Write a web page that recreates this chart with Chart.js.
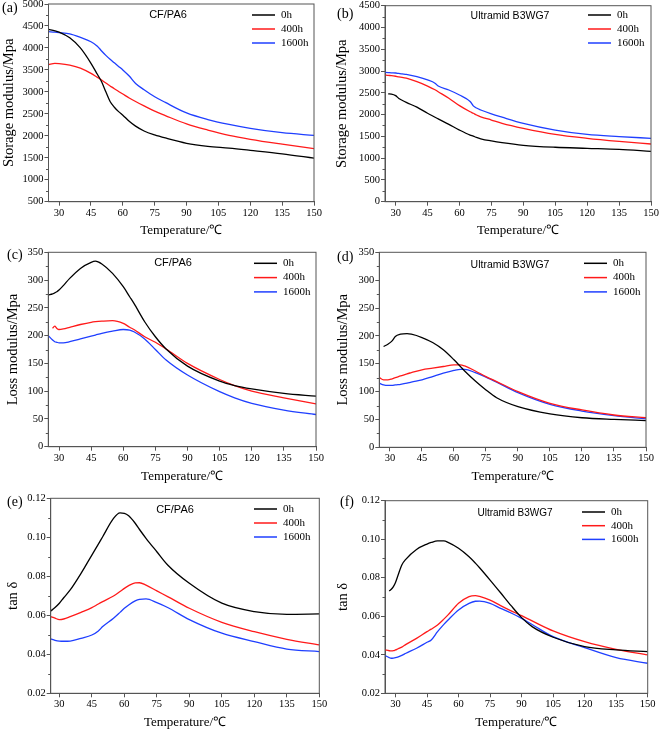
<!DOCTYPE html>
<html>
<head>
<meta charset="utf-8">
<script src="https://cdn.jsdelivr.net/npm/chart.js@4.4.1/dist/chart.umd.min.js"></script>
<style>
  body { margin: 0; background: #fff; }
  .wrap { position: relative; width: 661px; height: 731px; overflow: hidden; }
  canvas { position: absolute; }
</style>
</head>
<body>
<div class="wrap">
  <canvas id="pa" width="330" height="240" style="left:0;top:0"></canvas>
  <canvas id="pb" width="331" height="240" style="left:330px;top:0"></canvas>
  <canvas id="pc" width="330" height="245" style="left:0;top:240px"></canvas>
  <canvas id="pd" width="331" height="245" style="left:330px;top:240px"></canvas>
  <canvas id="pe" width="330" height="246" style="left:0;top:485px"></canvas>
  <canvas id="pf" width="331" height="246" style="left:330px;top:485px"></canvas>
</div>
<script>
const serif = '"Liberation Serif", "Times New Roman", serif';
const sans = '"Liberation Sans", Arial, sans-serif';

const seriesLabels = ['0h', '400h', '1600h'];
const seriesColors = ['#000000', '#ff1a1a', '#1f3fff'];
const xTicks = [30, 45, 60, 75, 90, 105, 120, 135, 150];

// (a) storage modulus, CF/PA6
const tempA = [25, 28, 30, 35, 40, 45, 48, 50, 52, 54, 56, 58, 60, 63, 66, 70, 75, 80, 90, 100, 110, 120, 135, 150];
const a0h   = [4420, 4390, 4360, 4230, 4000, 3650, 3400, 3230, 3000, 2780, 2650, 2550, 2470, 2330, 2220, 2110, 2020, 1950, 1830, 1760, 1720, 1670, 1590, 1490];
const a400  = [3620, 3650, 3645, 3610, 3540, 3420, 3330, 3270, 3200, 3135, 3070, 3010, 2950, 2860, 2780, 2680, 2560, 2460, 2270, 2130, 2010, 1920, 1810, 1710];
const a1600 = [4370, 4360, 4350, 4320, 4240, 4140, 4040, 3930, 3830, 3740, 3660, 3580, 3500, 3360, 3190, 3050, 2890, 2760, 2520, 2370, 2260, 2170, 2070, 2010];
const yTicksA = [500, 1000, 1500, 2000, 2500, 3000, 3500, 4000, 4500, 5000];

// (b) storage modulus, Ultramid B3WG7
const tempB = [25, 26.5, 28, 30, 31.5, 33, 35, 40, 45, 48.5, 50, 55, 60, 65, 66.5, 68, 70, 75, 80, 90, 105, 120, 135, 150];
const b0h   = [null, 2475, 2470, 2435, 2370, 2330, 2280, 2170, 2030, 1940, 1900, 1775, 1645, 1530, 1505, 1475, 1445, 1395, 1355, 1295, 1250, 1225, 1200, 1155];
const b400  = [2910, 2900, 2895, 2880, 2865, 2855, 2835, 2755, 2655, 2570, 2525, 2375, 2205, 2065, 2030, 1990, 1950, 1875, 1800, 1685, 1545, 1455, 1385, 1325];
const b1600 = [2970, 2965, 2960, 2955, 2945, 2935, 2925, 2870, 2795, 2720, 2655, 2565, 2450, 2300, 2200, 2150, 2105, 2015, 1940, 1800, 1645, 1545, 1495, 1455];
const yTicksB = [0, 500, 1000, 1500, 2000, 2500, 3000, 3500, 4000, 4500];

// (c) loss modulus, CF/PA6
const tempC = [25, 27, 28, 29, 30, 32, 35, 40, 45, 47, 50, 55, 60, 63, 65, 70, 75, 80, 90, 105, 112, 120, 135, 150];
const c0h   = [273, 275, 277, 279, 282, 290, 303, 321, 332, 334, 329, 312, 288, 270, 258, 225, 198, 176, 145, 118, 110, 104, 96, 91];
const c400  = [null, 213, 217, 213, 211, 212, 215, 220, 224, 225, 226, 227, 222, 215, 211, 198, 188, 176, 150, 121, 110, 100, 88, 77];
const c1600 = [200, 192, 189, 188, 187, 187, 189, 194, 199, 201, 204, 208, 211, 210, 207, 194, 175, 156, 129, 99, 88, 78, 66, 58];
const yTicksC = [0, 50, 100, 150, 200, 250, 300, 350];

// (d) loss modulus, Ultramid B3WG7
const tempD = [25, 27, 29, 31, 32.5, 35, 38, 40, 45, 50, 55, 60, 63, 65, 70, 75, 80, 90, 105, 120, 135, 150];
const d0h   = [null, 181, 185, 191, 199, 203, 204, 203, 197, 188, 175, 157, 145, 137, 119, 103, 89, 73, 60, 53, 50, 48];
const d400  = [125, 121, 121, 123, 125, 128, 132, 134, 139, 142, 145, 148, 148, 146, 137, 127, 118, 100, 79, 67, 58, 53];
const d1600 = [115, 112, 111, 111, 112, 113, 115, 117, 121, 127, 133, 138, 140, 140, 134, 126, 117, 98, 77, 65, 57, 51];
const yTicksD = [0, 50, 100, 150, 200, 250, 300, 350];

// (e) tan delta, CF/PA6
const tempE = [26, 28, 30, 32, 35, 40, 45, 48, 50, 55, 58, 60, 62, 65, 67, 70, 75, 80, 90, 105, 120, 135, 150];
const e0h   = [0.0622, 0.064, 0.0662, 0.069, 0.073, 0.0815, 0.0909, 0.0965, 0.1003, 0.1097, 0.1125, 0.1123, 0.111, 0.1072, 0.104, 0.0995, 0.0926, 0.0858, 0.0764, 0.0662, 0.0619, 0.0605, 0.0607];
const e400  = [0.0593, 0.0585, 0.0578, 0.0581, 0.0593, 0.0615, 0.0639, 0.0658, 0.067, 0.0699, 0.0722, 0.0738, 0.0752, 0.0766, 0.0767, 0.0755, 0.0725, 0.0696, 0.0636, 0.0564, 0.0516, 0.0477, 0.0448];
const e1600 = [0.0479, 0.0472, 0.0468, 0.0467, 0.0468, 0.0482, 0.0499, 0.052, 0.0542, 0.0585, 0.0615, 0.0636, 0.0653, 0.0674, 0.0682, 0.0684, 0.0665, 0.064, 0.0578, 0.0508, 0.0465, 0.0427, 0.0414];
const yTicksE = [0.02, 0.04, 0.06, 0.08, 0.10, 0.12];

// (f) tan delta, Ultramid B3WG7
const tempF = [25, 27, 28, 29, 30, 31, 33, 35, 40, 45, 47, 50, 53, 55, 60, 65, 68, 70, 75, 80, 85, 90, 95, 105, 120, 135, 150];
const f0h   = [null, 0.0731, 0.074, 0.0754, 0.0775, 0.0806, 0.0866, 0.0897, 0.0947, 0.0975, 0.0983, 0.0991, 0.0991, 0.0984, 0.0953, 0.0909, 0.0876, 0.0852, 0.0788, 0.0722, 0.0655, 0.0593, 0.0546, 0.0491, 0.0442, 0.0425, 0.0416];
const f400  = [0.0425, 0.0421, 0.042, 0.0421, 0.0425, 0.043, 0.044, 0.0454, 0.0485, 0.052, 0.0533, 0.0555, 0.0585, 0.0607, 0.0667, 0.0702, 0.0707, 0.0703, 0.0684, 0.0655, 0.0628, 0.0603, 0.0576, 0.0524, 0.0468, 0.0428, 0.0399];
const f1600 = [0.0396, 0.0385, 0.0382, 0.0383, 0.0385, 0.0388, 0.0397, 0.0408, 0.0434, 0.0465, 0.0477, 0.052, 0.0558, 0.0581, 0.0633, 0.0667, 0.0678, 0.0679, 0.0667, 0.0641, 0.0617, 0.0589, 0.0557, 0.0494, 0.0437, 0.0385, 0.0356];
const yTicksF = [0.02, 0.04, 0.06, 0.08, 0.10, 0.12];

const panels = [
  { id: 'pa', tag: '(a)', name: 'CF/PA6', yTitle: 'Storage modulus/Mpa', temps: tempA, series: [a0h, a400, a1600], yTicks: yTicksA, xMin: 25,
    box: { l: 48.5, r: 16, t: 4, xh: 38.3 }, yTitlePad: 0, xTitlePad: 2,
    leg: { x: 252, y: 15, step: 14 }, nameAt: [168, 15, 11], tagAt: [2, 8] },
  { id: 'pb', tag: '(b)', name: 'Ultramid B3WG7', yTitle: 'Storage modulus/Mpa', temps: tempB, series: [b0h, b400, b1600], yTicks: yTicksB, xMin: 25,
    box: { l: 55, r: 10, t: 5.7, xh: 38.3 }, yTitlePad: 3, xTitlePad: 2,
    leg: { x: 258, y: 15, step: 14 }, nameAt: [180, 16, 10.5], tagAt: [7, 14] },
  { id: 'pc', tag: '(c)', name: 'CF/PA6', yTitle: 'Loss modulus/Mpa', temps: tempC, series: [c0h, c400, c1600], yTicks: yTicksC, xMin: 25,
    box: { l: 48.3, r: 14, t: 12.3, xh: 38.3 }, yTitlePad: 4, xTitlePad: 0.5,
    leg: { x: 254, y: 23.3, step: 14.3 }, nameAt: [173, 23, 11], tagAt: [7, 15] },
  { id: 'pd', tag: '(d)', name: 'Ultramid B3WG7', yTitle: 'Loss modulus/Mpa', temps: tempD, series: [d0h, d400, d1600], yTicks: yTicksD, xMin: 25,
    box: { l: 49.3, r: 15, t: 12.3, xh: 37.7 }, yTitlePad: 4, xTitlePad: 0.5,
    leg: { x: 254, y: 23.3, step: 14.3 }, nameAt: [180, 25, 10.5], tagAt: [7, 17] },
  { id: 'pe', tag: '(e)', name: 'CF/PA6', yTitle: 'tan δ', temps: tempE, series: [e0h, e400, e1600], yTicks: yTicksE, xMin: 26,
    box: { l: 50.7, r: 10.7, t: 13.3, xh: 37.7 }, yTitlePad: 4, xTitlePad: 0.5,
    leg: { x: 254, y: 24, step: 14 }, nameAt: [175, 25, 11], tagAt: [7, 17], fixed: 2 },
  { id: 'pf', tag: '(f)', name: 'Ultramid B3WG7', yTitle: 'tan δ', temps: tempF, series: [f0h, f400, f1600], yTicks: yTicksF, xMin: 25,
    box: { l: 55, r: 13.3, t: 15.7, xh: 37.7 }, yTitlePad: 4, xTitlePad: 0.5,
    leg: { x: 252, y: 27, step: 13.7 }, nameAt: [185, 28, 10], tagAt: [10, 17], fixed: 2 }
];

// frame, minor ticks, legend and labels
const decor = {
  id: 'decor',
  afterDraw(chart, args, o) {
    const ctx = chart.ctx, a = chart.chartArea, ys = chart.scales.y;
    ctx.save();
    ctx.strokeStyle = '#555';
    ctx.lineWidth = 1;
    ctx.strokeRect(a.left, a.top, a.right - a.left, a.bottom - a.top);
    const t = o.yTicks;
    for (let i = 1; i < t.length; i++) {
      const py = Math.round(ys.getPixelForValue((t[i] + t[i - 1]) / 2)) + 0.5;
      ctx.beginPath();
      ctx.moveTo(a.left - 2.5, py);
      ctx.lineTo(a.left, py);
      ctx.stroke();
    }
    ctx.textBaseline = 'middle';
    ctx.fillStyle = '#000';
    ctx.font = '11px ' + serif;
    chart.data.datasets.forEach((ds, i) => {
      const yy = o.leg.y + i * o.leg.step;
      ctx.strokeStyle = ds.borderColor;
      ctx.lineWidth = 1.5;
      ctx.beginPath();
      ctx.moveTo(o.leg.x, yy);
      ctx.lineTo(o.leg.x + 23, yy);
      ctx.stroke();
      ctx.fillText(ds.label, o.leg.x + 29, yy);
    });
    ctx.textAlign = 'center';
    ctx.font = o.nameAt[2] + 'px ' + sans;
    ctx.fillText(o.name, o.nameAt[0], o.nameAt[1]);
    ctx.textAlign = 'left';
    ctx.font = '14px ' + serif;
    ctx.fillText(o.tag, o.tagAt[0], o.tagAt[1]);
    ctx.restore();
  }
};

for (const p of panels) {
  const canvas = document.getElementById(p.id);
  const datasets = p.series.map((vals, i) => ({
    label: seriesLabels[i],
    data: p.temps.map((x, j) => ({ x: x, y: vals[j] })).filter(d => d.y !== null),
    borderColor: seriesColors[i],
    borderWidth: 1.3,
    pointRadius: 0,
    fill: false,
    cubicInterpolationMode: 'monotone'
  }));

  new Chart(canvas.getContext('2d'), {
    type: 'line',
    data: { datasets: datasets },
    options: {
      responsive: false,
      animation: false,
      events: [],
      layout: { padding: { left: 0, top: p.box.t, right: p.box.r, bottom: 0 } },
      plugins: {
        legend: { display: false },
        tooltip: { enabled: false },
        decor: { yTicks: p.yTicks, leg: p.leg, name: p.name, nameAt: p.nameAt, tag: p.tag, tagAt: p.tagAt }
      },
      scales: {
        x: {
          type: 'linear',
          min: p.xMin,
          max: 150,
          afterBuildTicks: s => { s.ticks = xTicks.map(v => ({ value: v })); },
          afterFit: s => { s.height = p.box.xh; s.paddingLeft = 0; s.paddingRight = 0; },
          grid: { drawOnChartArea: false, drawTicks: true, tickLength: 4, tickColor: '#555' },
          border: { display: true, color: '#555' },
          ticks: { autoSkip: false, maxRotation: 0, padding: 1, color: '#000', font: { family: serif, size: 10.5 } },
          title: { display: true, text: 'Temperature/℃', color: '#000', font: { family: serif, size: 13 }, padding: { top: 0, bottom: p.xTitlePad } }
        },
        y: {
          type: 'linear',
          min: p.yTicks[0],
          max: p.yTicks[p.yTicks.length - 1],
          afterBuildTicks: s => { s.ticks = p.yTicks.map(v => ({ value: v })); },
          afterFit: s => { s.width = p.box.l; s.paddingTop = 0; s.paddingBottom = 0; },
          grid: { drawOnChartArea: false, drawTicks: true, tickLength: 4, tickColor: '#555' },
          border: { display: true, color: '#555' },
          ticks: {
            padding: 1, color: '#000', font: { family: serif, size: 10.5 },
            callback: v => p.fixed ? v.toFixed(p.fixed) : String(v)
          },
          title: { display: true, text: p.yTitle, color: '#000', font: { family: serif, size: 14.5 }, padding: { top: p.yTitlePad, bottom: 0 } }
        }
      }
    },
    plugins: [decor]
  });
}
</script>
</body>
</html>
